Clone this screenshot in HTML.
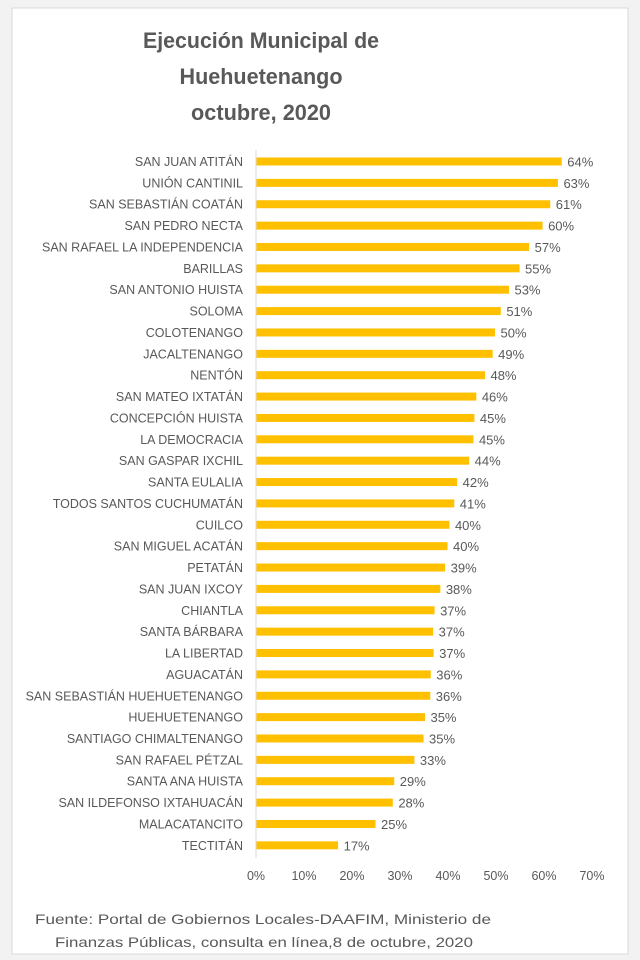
<!DOCTYPE html>
<html><head><meta charset="utf-8"><style>
html,body{margin:0;padding:0;background:#f2f2f2;}
svg{display:block;}
</style></head><body>
<svg width="640" height="960" xmlns="http://www.w3.org/2000/svg" font-family="Liberation Sans, sans-serif">
<rect x="0" y="0" width="640" height="960" fill="#f2f2f2"/>
<rect x="12" y="8" width="616" height="946" fill="#ffffff" stroke="#d9d9d9" stroke-width="1"/>
<g fill="#595959" font-weight="bold" font-size="22" text-anchor="middle">
<text x="261" y="48" textLength="236" lengthAdjust="spacingAndGlyphs">Ejecución Municipal de</text>
<text x="261" y="84" textLength="163" lengthAdjust="spacingAndGlyphs">Huehuetenango</text>
<text x="261" y="120" textLength="140" lengthAdjust="spacingAndGlyphs">octubre, 2020</text>
</g>
<line x1="256" y1="150" x2="256" y2="858" stroke="#d9d9d9" stroke-width="1"/>
<g id="bars" fill="#ffc000"></g>
<g id="labs" fill="#595959" font-size="12.5"></g>
<g fill="#595959" font-size="12.5" text-anchor="middle">
<text x="256" y="880">0%</text><text x="304" y="880">10%</text><text x="352" y="880">20%</text><text x="400" y="880">30%</text><text x="448" y="880">40%</text><text x="496" y="880">50%</text><text x="544" y="880">60%</text><text x="592" y="880">70%</text>
</g>
<g fill="#595959" font-size="14">
<text x="35" y="924" textLength="456" lengthAdjust="spacingAndGlyphs">Fuente: Portal de Gobiernos Locales-DAAFIM, Ministerio de</text>
<text x="55" y="947" textLength="418" lengthAdjust="spacingAndGlyphs">Finanzas Públicas, consulta en línea,8 de octubre, 2020</text>
</g>
</svg>
<script>
var d=[["SAN JUAN ATITÁN",64],["UNIÓN CANTINIL",63],["SAN SEBASTIÁN COATÁN",61],["SAN PEDRO NECTA",60],["SAN RAFAEL LA INDEPENDENCIA",57],["BARILLAS",55],["SAN ANTONIO HUISTA",53],["SOLOMA",51],["COLOTENANGO",50],["JACALTENANGO",49],["NENTÓN",48],["SAN MATEO IXTATÁN",46],["CONCEPCIÓN HUISTA",45],["LA DEMOCRACIA",45],["SAN GASPAR IXCHIL",44],["SANTA EULALIA",42],["TODOS SANTOS CUCHUMATÁN",41],["CUILCO",40],["SAN MIGUEL ACATÁN",40],["PETATÁN",39],["SAN JUAN IXCOY",38],["CHIANTLA",37],["SANTA BÁRBARA",37],["LA LIBERTAD",37],["AGUACATÁN",36],["SAN SEBASTIÁN HUEHUETENANGO",36],["HUEHUETENANGO",35],["SANTIAGO CHIMALTENANGO",35],["SAN RAFAEL PÉTZAL",33],["SANTA ANA HUISTA",29],["SAN ILDEFONSO IXTAHUACÁN",28],["MALACATANCITO",25],["TECTITÁN",17]];
var exact={"SAN JUAN ATITÁN":63.6,"UNIÓN CANTINIL":62.8,"SAN SEBASTIÁN COATÁN":61.2,"SAN PEDRO NECTA":59.6,"SAN RAFAEL LA INDEPENDENCIA":56.8,"BARILLAS":54.8,"SAN ANTONIO HUISTA":52.6,"SOLOMA":50.9,"COLOTENANGO":49.7,"JACALTENANGO":49.2,"NENTÓN":47.6,"SAN MATEO IXTATÁN":45.8,"CONCEPCIÓN HUISTA":45.4,"LA DEMOCRACIA":45.2,"SAN GASPAR IXCHIL":44.3,"SANTA EULALIA":41.8,"TODOS SANTOS CUCHUMATÁN":41.2,"CUILCO":40.2,"SAN MIGUEL ACATÁN":39.8,"PETATÁN":39.3,"SAN JUAN IXCOY":38.3,"CHIANTLA":37.1,"SANTA BÁRBARA":36.8,"LA LIBERTAD":36.9,"AGUACATÁN":36.3,"SAN SEBASTIÁN HUEHUETENANGO":36.2,"HUEHUETENANGO":35.1,"SANTIAGO CHIMALTENANGO":34.8,"SAN RAFAEL PÉTZAL":32.9,"SANTA ANA HUISTA":28.7,"SAN ILDEFONSO IXTAHUACÁN":28.4,"MALACATANCITO":24.8,"TECTITÁN":17.0};
var NS="http://www.w3.org/2000/svg",b=document.getElementById("bars"),l=document.getElementById("labs");
d.forEach(function(r,i){
 var cy=161.5+i*21.37, v=exact[r[0]]||r[1], w=v*4.8;
 var re=document.createElementNS(NS,"rect");re.setAttribute("x",256.5);re.setAttribute("y",cy-4);re.setAttribute("width",w);re.setAttribute("height",8);b.appendChild(re);
 var t=document.createElementNS(NS,"text");t.setAttribute("x",243);t.setAttribute("y",cy+4.5);t.setAttribute("text-anchor","end");t.setAttribute("transform","scale(1,1)");t.textContent=r[0];l.appendChild(t);
 var p=document.createElementNS(NS,"text");p.setAttribute("x",256+w+6);p.setAttribute("y",cy+5);p.setAttribute("font-size","13");p.textContent=r[1]+"%";l.appendChild(p);
});
</script>
</body></html>
